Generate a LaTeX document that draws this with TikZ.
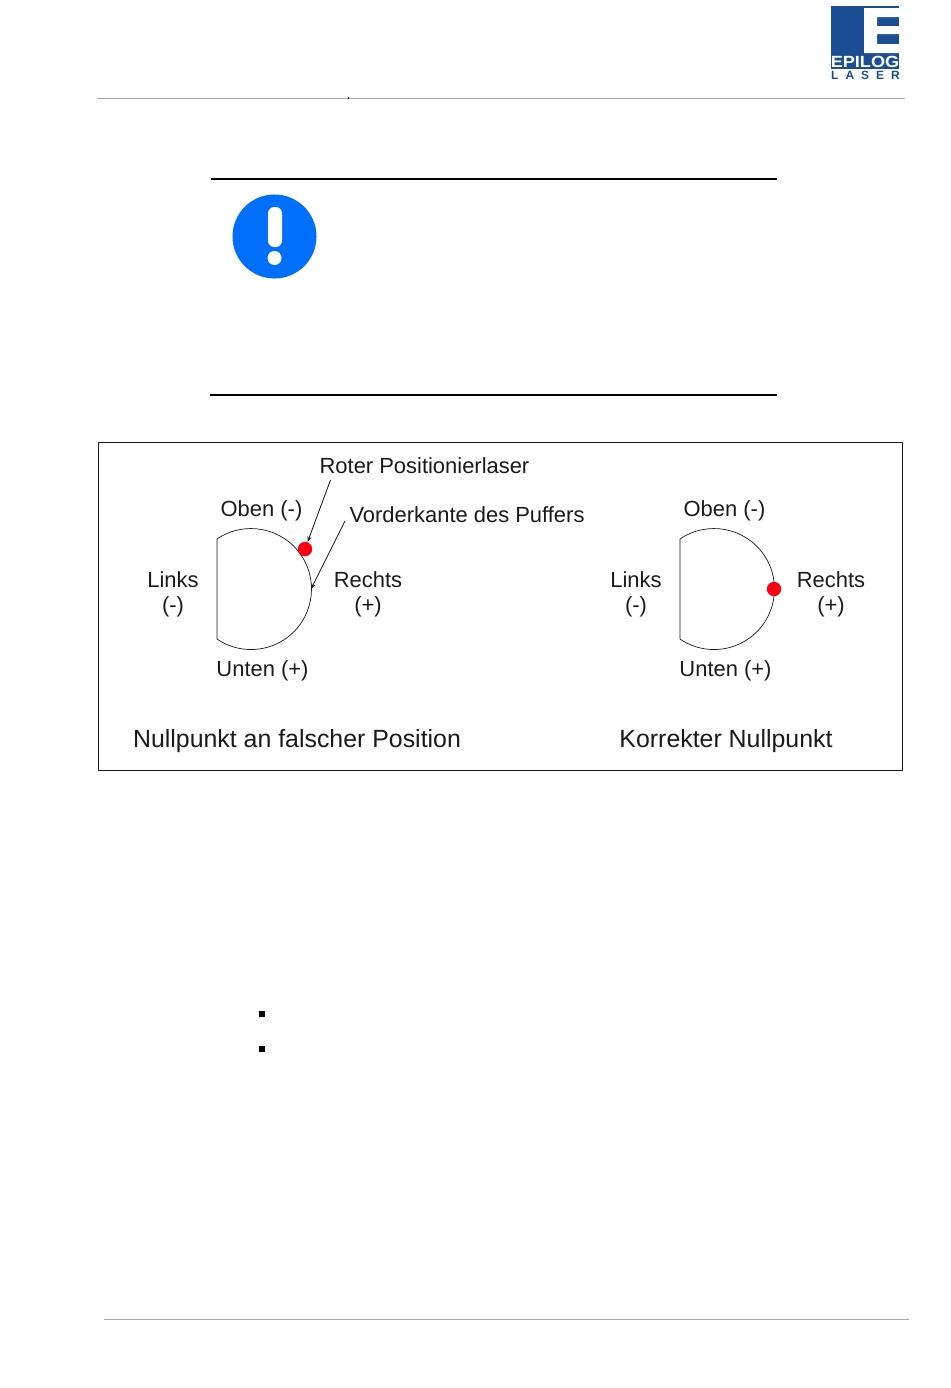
\documentclass[tikz,border=0pt]{standalone}
\usepackage{fontspec}
\setmainfont{Liberation Sans}
\usetikzlibrary{arrows.meta,calc}
\definecolor{ink}{HTML}{1A1A1A}
\definecolor{rulegray}{HTML}{A8A8A8}
\definecolor{logoblue}{HTML}{1B4E94}
\definecolor{noteblue}{HTML}{0070FA}
\definecolor{laserred}{HTML}{FA0010}

\begin{document}
\begin{tikzpicture}[
  x=0.025cm,y=-0.025cm,draw=ink,text=ink,
  line width=0.6pt,line join=round,
  >={Stealth[length=4pt,width=3pt]},
  lbl/.style={font=\fontsize{15.6}{17.8}\selectfont,inner sep=0pt,align=center},
  capt/.style={font=\fontsize{17.7}{21}\selectfont,inner sep=0pt},
  rulehead/.style={draw=rulegray,line width=0.7pt},
  rulenote/.style={draw=black,line width=1.1pt},
  laserdot/.style={circle,fill=laserred,minimum size=0.36cm,inner sep=0pt},
  bulletbox/.style={fill=black,minimum size=0.13cm,inner sep=0pt}
]
\useasboundingbox (0,0) rectangle (950,1388);

% Page head and logo.
\fill[logoblue] (831,6) rectangle (899,69);
\fill[white] (864,8) -- (899,8) -- (899,17) -- (877,17) -- (877,26) -- (899,26)
  -- (899,34) -- (877,34) -- (877,44) -- (899,44) -- (899,53) -- (864,53) -- cycle;
\node[font=\bfseries\fontsize{11.5}{12}\selectfont,text=white,inner sep=0pt,xscale=1.12] (epilog) at (865,61.5) {EPILOG};
\node[font=\bfseries\fontsize{8.5}{9}\selectfont,text=logoblue,inner sep=0pt] (laser) at (865.5,75) {L\hspace{5pt}A\hspace{5pt}S\hspace{5pt}E\hspace{5pt}R};
\coordinate (headl) at (97,98);
\coordinate (headr) at (905,98);
\draw[rulehead] (headl) -- (headr);
\coordinate (ticka) at (348.5,96.5);
\coordinate (tickb) at (348.5,99);
\draw[line width=0.5pt] (ticka) -- (tickb);

% Note block.
\coordinate (notea) at (211,179);
\coordinate (noteb) at (777,179);
\coordinate (notec) at (210,395);
\coordinate (noted) at (777,395);
\draw[rulenote] (notea) -- (noteb);
\draw[rulenote] (notec) -- (noted);
\node[circle,fill=noteblue,minimum size=2.1cm,inner sep=0pt] (mark) at (274.5,236.5) {};
\fill[white,rounded corners=4.5pt] (268,207) rectangle (282,247);
\fill[white] (274.5,258) circle (7);

% Frame with the two views.
\node[draw,line width=0.5pt,minimum width=20.1cm,minimum height=8.2cm,inner sep=0pt] (frame) at (500,606) {};
\foreach \dx in {0,463}{
  \draw[line width=0.5pt] (217+\dx,539) arc[start angle=-124.2,end angle=124.2,radius=60.5] -- cycle;
}

% Left view.
\node[lbl] (obena) at (261.5,511) {Oben (-)};
\node[lbl] (untena) at (262.5,671) {Unten (+)};
\node[lbl] (linksa) at (173,594) {Links\\(-)};
\node[lbl] (rechtsa) at (368,594) {Rechts\\(+)};
\node[lbl] (roter) at (424.5,466) {Roter Positionierlaser};
\node[lbl] (vorder) at (467,515) {Vorderkante des Puffers};
\node[capt] (captfalse) at (297,741) {Nullpunkt an falscher Position};
\node[laserdot] (dota) at (305,549) {};
\coordinate (roterend) at (330.5,480);
\coordinate (vorderend) at (345,521);
\coordinate (edge) at (311,589);
\draw[->] (roterend) -- (dota.70);
\draw[->] (vorderend) -- (edge);

% Right view.
\node[lbl] (obenb) at (724.5,511) {Oben (-)};
\node[lbl] (untenb) at (725.5,671) {Unten (+)};
\node[lbl] (linksb) at (636,594) {Links\\(-)};
\node[lbl] (rechtsb) at (831,594) {Rechts\\(+)};
\node[capt] (captok) at (726,741) {Korrekter Nullpunkt};
\node[laserdot] (dotb) at (774,589) {};

% List marks and page foot.
\node[bulletbox] (marka) at (262,1014) {};
\node[bulletbox] (markb) at (262,1049) {};
\coordinate (footl) at (104,1319);
\coordinate (footr) at (909,1319);
\draw[rulehead] (footl) -- (footr);

\end{tikzpicture}
\end{document}
